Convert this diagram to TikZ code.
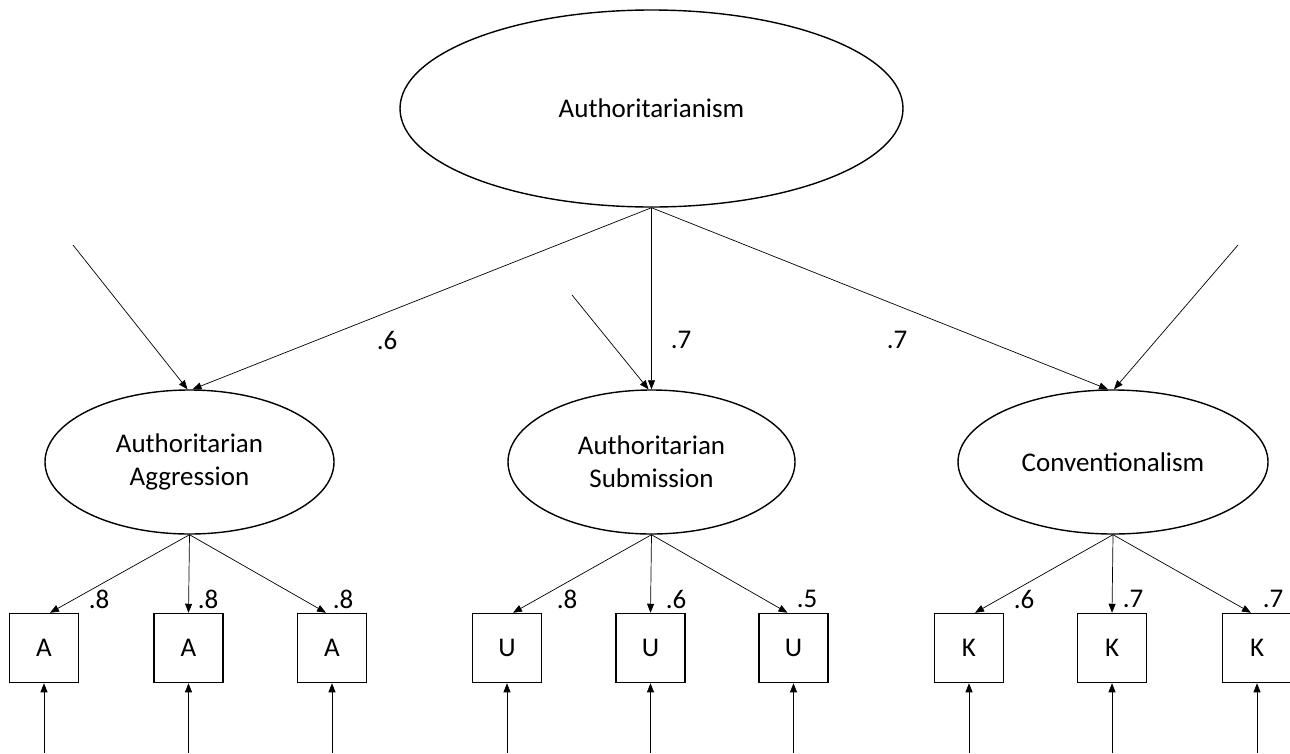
\documentclass[tikz,border=0pt]{standalone}
\usepackage{fontspec}
\setmainfont{Carlito}
\usetikzlibrary{shapes.geometric,arrows.meta,calc}
\begin{document}
\begin{tikzpicture}[x=1pt,y=-1pt,
  every node/.style={font=\fontsize{27}{33}\selectfont},
  latent/.style={draw,ellipse,line width=1.4pt,inner sep=0pt,align=center},
  obs/.style={draw,rectangle,line width=1.5pt,minimum width=69pt,minimum height=69pt,inner sep=0pt},
  path/.style={line width=0.7pt,-{Triangle[length=9pt,width=7pt]}},
  lbl/.style={inner sep=0pt}]
\useasboundingbox (0,0) rectangle (1290,753);
\fill[white] (0,0) rectangle (1290,753);
% latent variables
\node[latent,minimum width=503pt,minimum height=197pt] (auth) at (651.5,108.5) {Authoritarianism};
\node[latent,minimum width=289pt,minimum height=144pt] (agg) at (189.5,462) {Authoritarian\\Aggression};
\node[latent,minimum width=287pt,minimum height=144pt] (sub) at (651.5,462) {Authoritarian\\Submission};
\node[latent,minimum width=310pt,minimum height=144pt] (con) at (1113,462) {Conventionalism};
% observed
\node[obs] (a1) at (44,648) {A};
\node[obs] (a2) at (188.5,648) {A};
\node[obs] (a3) at (332,648) {A};
\node[obs] (u1) at (507,648) {U};
\node[obs] (u2) at (650.5,648) {U};
\node[obs] (u3) at (793.5,648) {U};
\node[obs] (k1) at (969,648) {K};
\node[obs] (k2) at (1112,648) {K};
\node[obs] (k3) at (1257,648) {K};
% disturbance origins
\coordinate (dagg) at (73,245);
\coordinate (dsub) at (572,295);
\coordinate (dcon) at (1238,245);
% second-order paths
\draw[path] (auth.south) -- ($(agg.north)+(3,0)$);
\draw[path] (auth.south) -- (sub.north);
\draw[path] (auth.south) -- ($(con.north)+(-5,0)$);
\draw[path] (dagg) -- ($(agg.north)+(-2,0)$);
\draw[path] (dsub) -- ($(sub.north)+(-3,0)$);
\draw[path] (dcon) -- ($(con.north)+(1,0)$);
\node[lbl] (l1) at (387,340) {.6};
\node[lbl] (l2) at (681,340) {.7};
\node[lbl] (l3) at (897,340) {.7};
% first-order loadings
\draw[path] (agg.south) -- ($(a1.north)+(6,0)$);
\draw[path] (agg.south) -- (a2.north);
\draw[path] (agg.south) -- ($(a3.north)+(-6,0)$);
\draw[path] (sub.south) -- ($(u1.north)+(6,0)$);
\draw[path] (sub.south) -- (u2.north);
\draw[path] (sub.south) -- ($(u3.north)+(-6,0)$);
\draw[path] (con.south) -- ($(k1.north)+(6,0)$);
\draw[path] (con.south) -- (k2.north);
\draw[path] (con.south) -- ($(k3.north)+(-6,0)$);
\node[lbl] (m1) at (99,599) {.8};
\node[lbl] (m2) at (208,599) {.8};
\node[lbl] (m3) at (343,599) {.8};
\node[lbl] (m4) at (567,599) {.8};
\node[lbl] (m5) at (676,599) {.6};
\node[lbl] (m6) at (807,599) {.5};
\node[lbl] (m7) at (1024,599) {.6};
\node[lbl] (m8) at (1133,599) {.7};
\node[lbl] (m9) at (1273,599) {.7};
% error arrows
\foreach \b in {a1,a2,a3,u1,u2,u3,k1,k2,k3}{
  \coordinate (e\b) at (\b.south |- 0,753);
  \draw[path] (e\b) -- (\b.south);
}
\end{tikzpicture}
\end{document}
